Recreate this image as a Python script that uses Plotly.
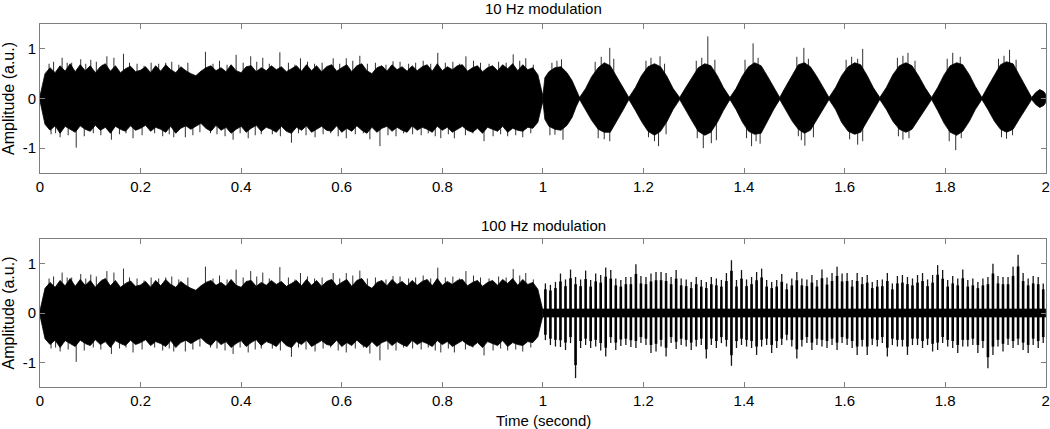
import plotly.graph_objects as go

# ---------------- data ----------------
# unmodulated noise (first second, identical in both panels): dense envelope every 0.01 s
noise_t = [round(i * 0.01, 2) for i in range(101)]
noise_up = [0.05, 0.50, 0.62, 0.52, 0.66, 0.55, 0.70, 0.54, 0.68, 0.56,
            0.66, 0.52, 0.64, 0.70, 0.55, 0.66, 0.52, 0.60, 0.65, 0.54,
            0.57, 0.64, 0.52, 0.66, 0.55, 0.68, 0.58, 0.52, 0.64, 0.56,
            0.50, 0.46, 0.55, 0.62, 0.66, 0.56, 0.62, 0.54, 0.68, 0.56,
            0.52, 0.64, 0.66, 0.54, 0.62, 0.56, 0.66, 0.58, 0.64, 0.54,
            0.60, 0.66, 0.55, 0.68, 0.56, 0.66, 0.54, 0.64, 0.68, 0.55,
            0.62, 0.68, 0.54, 0.66, 0.70, 0.56, 0.50, 0.62, 0.66, 0.55,
            0.68, 0.58, 0.64, 0.55, 0.66, 0.56, 0.64, 0.68, 0.55, 0.70,
            0.56, 0.64, 0.58, 0.66, 0.68, 0.55, 0.62, 0.66, 0.54, 0.62,
            0.66, 0.56, 0.68, 0.60, 0.70, 0.56, 0.68, 0.58, 0.62, 0.48, 0.05]
noise_lo = [-0.05, -0.52, -0.64, -0.55, -0.70, -0.56, -0.62, -0.68, -0.55, -0.62,
            -0.66, -0.54, -0.64, -0.58, -0.70, -0.56, -0.62, -0.66, -0.55, -0.64,
            -0.60, -0.54, -0.66, -0.58, -0.62, -0.68, -0.56, -0.70, -0.60, -0.55,
            -0.62, -0.56, -0.50, -0.60, -0.66, -0.54, -0.64, -0.58, -0.70, -0.62,
            -0.56, -0.68, -0.60, -0.54, -0.66, -0.58, -0.62, -0.68, -0.56, -0.66,
            -0.70, -0.58, -0.64, -0.55, -0.68, -0.62, -0.56, -0.64, -0.66, -0.55,
            -0.68, -0.60, -0.66, -0.55, -0.64, -0.70, -0.58, -0.68, -0.60, -0.56,
            -0.66, -0.58, -0.64, -0.68, -0.55, -0.64, -0.58, -0.62, -0.68, -0.56,
            -0.64, -0.58, -0.68, -0.62, -0.56, -0.64, -0.68, -0.60, -0.70, -0.58,
            -0.62, -0.66, -0.56, -0.68, -0.60, -0.64, -0.66, -0.58, -0.60, -0.48, -0.05]
# tall single spikes and fringe strokes above / below the dense band
noise_spike_t = [0.044, 0.063, 0.081, 0.101, 0.133, 0.147, 0.166, 0.250, 0.329, 0.390,
                 0.419, 0.443, 0.477, 0.518, 0.583, 0.609, 0.636, 0.702, 0.791, 0.847,
                 0.941, 0.966,
                 0.018, 0.027, 0.054, 0.091, 0.112, 0.124, 0.178, 0.193, 0.207, 0.221,
                 0.236, 0.262, 0.276, 0.294, 0.344, 0.357, 0.372, 0.404, 0.431, 0.456,
                 0.494, 0.507, 0.532, 0.546, 0.561, 0.596, 0.622, 0.651, 0.667, 0.688,
                 0.716, 0.733, 0.747, 0.762, 0.777, 0.806, 0.821, 0.834, 0.862, 0.876,
                 0.893, 0.912, 0.927, 0.954, 0.981,
                 0.040, 0.072, 0.142, 0.185, 0.266, 0.289, 0.318, 0.384, 0.414, 0.440,
                 0.500, 0.547, 0.609, 0.656, 0.676, 0.797, 0.824, 0.883, 0.930, 0.960,
                 0.022, 0.031, 0.056, 0.088, 0.106, 0.121, 0.158, 0.171, 0.203, 0.228,
                 0.244, 0.257, 0.304, 0.339, 0.352, 0.368, 0.398, 0.428, 0.462, 0.478,
                 0.514, 0.529, 0.563, 0.578, 0.593, 0.627, 0.643, 0.692, 0.708, 0.723,
                 0.741, 0.758, 0.772, 0.786, 0.812, 0.846, 0.861, 0.901, 0.916, 0.946,
                 0.976]
noise_spike_v = [0.82, 0.72, 0.79, 0.78, 0.85, 0.82, 0.90, 0.72, 0.94, 0.88,
                 0.85, 0.82, 0.93, 0.81, 0.81, 0.81, 0.86, 0.75, 0.92, 0.85,
                 0.89, 0.81,
                 0.70, 0.74, 0.72, 0.70, 0.74, 0.68, 0.72, 0.70, 0.66, 0.72,
                 0.70, 0.74, 0.68, 0.72, 0.70, 0.76, 0.68, 0.72, 0.74, 0.70,
                 0.72, 0.68, 0.74, 0.70, 0.72, 0.70, 0.76, 0.70, 0.72, 0.68,
                 0.74, 0.70, 0.72, 0.76, 0.70, 0.72, 0.74, 0.70, 0.76, 0.72,
                 0.70, 0.74, 0.72, 0.76, 0.68,
                 -0.78, -0.99, -0.83, -0.80, -0.78, -0.78, -0.68, -0.83, -0.80, -0.72,
                 -0.89, -0.78, -0.80, -0.82, -0.96, -0.80, -0.80, -0.86, -0.76, -0.78,
                 -0.72, -0.70, -0.74, -0.76, -0.70, -0.74, -0.72, -0.70, -0.74, -0.70,
                 -0.76, -0.72, -0.74, -0.70, -0.72, -0.76, -0.70, -0.74, -0.72, -0.76,
                 -0.70, -0.74, -0.72, -0.70, -0.76, -0.72, -0.70, -0.74, -0.76, -0.70,
                 -0.72, -0.74, -0.70, -0.76, -0.72, -0.74, -0.70, -0.76, -0.72, -0.74,
                 -0.70]

# 10 Hz modulated part (second 1..2): dense envelope points
am10_t = [1.000, 1.004, 1.012, 1.024, 1.036, 1.048, 1.058, 1.066, 1.073,
          1.085, 1.097, 1.110, 1.122, 1.134, 1.146, 1.159, 1.171,
          1.184, 1.196, 1.209, 1.222, 1.234, 1.247, 1.259, 1.272,
          1.284, 1.297, 1.309, 1.322, 1.334, 1.347, 1.359, 1.372,
          1.384, 1.397, 1.409, 1.421, 1.434, 1.446, 1.459, 1.471,
          1.483, 1.496, 1.508, 1.520, 1.532, 1.545, 1.557, 1.569,
          1.582, 1.594, 1.607, 1.620, 1.632, 1.645, 1.657, 1.670,
          1.683, 1.696, 1.709, 1.722, 1.734, 1.747, 1.760, 1.773,
          1.785, 1.798, 1.810, 1.823, 1.835, 1.848, 1.860, 1.873,
          1.885, 1.898, 1.910, 1.922, 1.935, 1.947, 1.960, 1.972,
          1.980, 1.988, 1.996, 2.000]
am10_up = [0.05, 0.42, 0.54, 0.62, 0.64, 0.52, 0.36, 0.17, 0.02,
           0.20, 0.44, 0.62, 0.72, 0.66, 0.46, 0.22, 0.02,
           0.22, 0.46, 0.64, 0.70, 0.64, 0.44, 0.20, 0.02,
           0.22, 0.44, 0.62, 0.70, 0.66, 0.46, 0.22, 0.02,
           0.20, 0.46, 0.64, 0.72, 0.66, 0.46, 0.22, 0.02,
           0.24, 0.48, 0.68, 0.72, 0.64, 0.44, 0.22, 0.02,
           0.22, 0.46, 0.64, 0.72, 0.68, 0.46, 0.22, 0.02,
           0.22, 0.48, 0.66, 0.72, 0.66, 0.46, 0.22, 0.02,
           0.22, 0.48, 0.66, 0.72, 0.68, 0.48, 0.24, 0.02,
           0.24, 0.48, 0.68, 0.74, 0.70, 0.48, 0.24, 0.02,
           0.12, 0.18, 0.14, 0.08]
am10_lo = [-0.05, -0.42, -0.56, -0.62, -0.64, -0.54, -0.38, -0.17, -0.02,
           -0.22, -0.44, -0.62, -0.68, -0.68, -0.46, -0.24, -0.02,
           -0.24, -0.46, -0.66, -0.74, -0.66, -0.46, -0.22, -0.02,
           -0.22, -0.46, -0.66, -0.74, -0.68, -0.48, -0.24, -0.02,
           -0.22, -0.48, -0.66, -0.72, -0.70, -0.48, -0.22, -0.02,
           -0.24, -0.46, -0.62, -0.70, -0.64, -0.44, -0.22, -0.02,
           -0.22, -0.48, -0.66, -0.72, -0.68, -0.46, -0.24, -0.02,
           -0.22, -0.46, -0.62, -0.68, -0.62, -0.42, -0.22, -0.02,
           -0.24, -0.50, -0.68, -0.74, -0.66, -0.46, -0.22, -0.02,
           -0.22, -0.46, -0.62, -0.68, -0.62, -0.42, -0.20, -0.02,
           -0.12, -0.18, -0.14, -0.08]
am10_spike_t = [1.037, 1.133, 1.233, 1.328, 1.418, 1.519, 1.636, 1.726, 1.815, 1.928,
                1.018, 1.028, 1.104, 1.116, 1.141, 1.205, 1.215, 1.242, 1.305, 1.316,
                1.342, 1.402, 1.428, 1.505, 1.528, 1.603, 1.614, 1.626, 1.705, 1.716,
                1.740, 1.804, 1.830, 1.906, 1.917, 1.941,
                1.024, 1.040, 1.133, 1.230, 1.319, 1.335, 1.415, 1.432, 1.521, 1.626,
                1.716, 1.821, 1.922,
                1.014, 1.110, 1.122, 1.210, 1.222, 1.245, 1.307, 1.345, 1.405, 1.424,
                1.508, 1.514, 1.538, 1.610, 1.636, 1.707, 1.728, 1.808, 1.832, 1.912,
                1.934]
am10_spike_v = [0.79, 1.02, 0.85, 1.25, 1.11, 1.02, 1.00, 0.92, 0.92, 0.98,
                0.72, 0.76, 0.74, 0.84, 0.80, 0.76, 0.82, 0.70, 0.76, 0.82,
                0.78, 0.78, 0.82, 0.84, 0.80, 0.78, 0.84, 0.80, 0.82, 0.86,
                0.76, 0.80, 0.84, 0.80, 0.86, 0.78,
                -0.73, -0.83, -0.86, -0.96, -1.00, -0.90, -0.96, -0.91, -0.95, -0.93,
                -0.83, -1.04, -0.81,
                -0.74, -0.80, -0.82, -0.78, -0.86, -0.72, -0.80, -0.84, -0.80, -0.86,
                -0.76, -0.84, -0.78, -0.82, -0.86, -0.76, -0.80, -0.86, -0.80, -0.78,
                -0.74]

# 100 Hz modulated part: one stroke per modulation cycle (100 cycles)
am100_start = 1.005
am100_step = 0.01
am100_up = [0.60, 0.57, 0.63, 0.80, 0.68, 0.88, 0.73, 0.68, 0.86, 0.67,
            0.80, 0.77, 0.92, 0.87, 0.70, 0.67, 0.73, 0.73, 0.99, 0.75,
            0.73, 0.80, 0.83, 0.83, 0.81, 0.73, 0.87, 0.70, 0.68, 0.63,
            0.73, 0.67, 0.63, 0.73, 0.70, 0.67, 0.81, 1.07, 0.67, 0.87,
            0.68, 0.73, 0.83, 0.90, 0.67, 0.63, 0.67, 0.79,
            0.60, 0.70, 0.83, 0.70, 0.68, 0.77, 0.67, 0.88, 0.72, 0.81,
            0.94, 0.80, 0.81, 0.67, 0.81, 0.73, 0.77, 0.63, 0.67, 0.68,
            0.81, 0.60, 0.75, 0.77, 0.73, 0.70, 0.77, 0.81, 0.68, 0.77,
            0.97, 0.87, 0.67, 0.75, 0.70, 0.88, 0.67, 0.70, 0.63, 0.70,
            0.73, 1.00, 0.75, 0.73, 0.73, 0.94, 1.18, 0.81, 0.70, 0.75,
            0.73, 0.60]
am100_lo = [-0.55, -0.65, -0.68, -0.69, -0.75, -0.61, -1.32, -0.71, -0.65, -0.71,
            -0.68, -0.76, -0.88, -0.61, -0.75, -0.67, -0.65, -0.69, -0.71, -0.61,
            -0.65, -0.81, -0.78, -0.68, -0.88, -0.61, -0.73, -0.65, -0.68, -0.75,
            -0.68, -0.65, -0.92, -0.65, -0.71, -0.61, -0.68, -1.07, -0.71, -0.65,
            -0.68, -0.71, -0.85, -0.68, -0.65, -0.81, -0.71, -0.65,
            -0.55, -0.68, -0.92, -0.68, -0.61, -0.75, -0.65, -0.68, -0.71, -0.65,
            -0.75, -0.61, -0.65, -0.71, -0.85, -0.68, -0.85, -0.65, -0.68, -0.61,
            -0.88, -0.65, -0.68, -0.68, -0.85, -0.65, -0.65, -0.71, -0.65, -0.78,
            -0.75, -0.61, -0.68, -0.71, -0.81, -0.68, -0.68, -0.65, -0.81, -0.71,
            -1.12, -0.85, -0.68, -0.78, -0.65, -0.71, -0.65, -0.75, -0.81, -0.65,
            -0.71, -0.61]
am100_core = 0.08   # half-height of the dense band between strokes

panel_titles = ["10 Hz modulation", "100 Hz modulation"]
x_ticks = [0, 0.2, 0.4, 0.6, 0.8, 1, 1.2, 1.4, 1.6, 1.8, 2]
x_ticktext = ["0", "0.2", "0.4", "0.6", "0.8", "1", "1.2", "1.4", "1.6", "1.8", "2"]
y_ticks = [-1, 0, 1]
y_ticktext = ["-1", "0", "1"]
x_title = "Time (second)"
y_title = "Amplitude (a.u.)"

# ---------------- figure ----------------
FONT = "Liberation Sans, Arial, sans-serif"
fig = go.Figure()


def band(t, up, lo, xa, ya):
    fig.add_trace(go.Scatter(x=list(t) + list(t)[::-1], y=list(up) + list(lo)[::-1],
                             fill="toself", fillcolor="black", mode="lines",
                             line=dict(color="black", width=0.8),
                             xaxis=xa, yaxis=ya, hoverinfo="skip", showlegend=False))


def strokes(ts, v0, v1, xa, ya, width, color):
    xs, ys = [], []
    for t, a, b in zip(ts, v0, v1):
        xs += [t, t, None]
        ys += [a, b, None]
    fig.add_trace(go.Scatter(x=xs, y=ys, mode="lines",
                             line=dict(color=color, width=width),
                             xaxis=xa, yaxis=ya, hoverinfo="skip", showlegend=False))


for xa, ya in (("x", "y"), ("x2", "y2")):
    strokes(noise_spike_t, [0] * len(noise_spike_t), noise_spike_v, xa, ya, 1.0, "#303030")
    band(noise_t, noise_up, noise_lo, xa, ya)

# top: 10 Hz
strokes(am10_spike_t, [0] * len(am10_spike_t), am10_spike_v, "x", "y", 1.0, "#303030")
band(am10_t, am10_up, am10_lo, "x", "y")

# bottom: 100 Hz
band([1.0, 2.0], [am100_core, am100_core], [-am100_core, -am100_core], "x2", "y2")
am100_t = [am100_start + am100_step * k for k in range(len(am100_up))]
strokes(am100_t, am100_lo, am100_up, "x2", "y2", 1.3, "#151515")
strokes(am100_t, [0.8 * v for v in am100_lo], [0.8 * v for v in am100_up],
        "x2", "y2", 2.6, "black")

axis_common = dict(range=[0, 2.0005], tickvals=x_ticks, ticktext=x_ticktext,
                   ticks="inside", ticklen=5, tickcolor="#7f7f7f", mirror="ticks",
                   showline=True, linecolor="#7f7f7f", linewidth=1,
                   showgrid=False, zeroline=False, automargin=False,
                   ticklabeloverflow="allow",
                   tickfont=dict(family=FONT, size=15, color="black"))
yaxis_common = dict(range=[-1.5, 1.5], tickvals=y_ticks, ticktext=y_ticktext,
                    ticks="inside", ticklen=5, tickcolor="#7f7f7f", mirror="ticks",
                    showline=True, linecolor="#7f7f7f", linewidth=1,
                    showgrid=False, zeroline=False, automargin=False,
                    tickfont=dict(family=FONT, size=15, color="black"))

fig.update_layout(
    width=1050, height=429,
    margin=dict(l=40, r=4, t=24, b=42, autoexpand=False),
    paper_bgcolor="white", plot_bgcolor="white",
    xaxis=dict(domain=[0, 1], anchor="y", **axis_common),
    yaxis=dict(domain=[0.5895, 1], anchor="x", **yaxis_common),
    xaxis2=dict(domain=[0, 1], anchor="y2", **axis_common),
    yaxis2=dict(domain=[0, 0.4077], anchor="x2", **yaxis_common),
    annotations=[
        dict(text=panel_titles[0], x=0.5, y=1.0, xref="paper", yref="paper",
             xanchor="center", yanchor="bottom", yshift=5, showarrow=False,
             font=dict(family=FONT, size=15, color="black")),
        dict(text=panel_titles[1], x=0.5, y=0.4077, xref="paper", yref="paper",
             xanchor="center", yanchor="bottom", yshift=3, showarrow=False,
             font=dict(family=FONT, size=15, color="black")),
        dict(text=x_title, x=0.5, y=0, xref="paper", yref="paper",
             xanchor="center", yanchor="top", yshift=-23, showarrow=False,
             font=dict(family=FONT, size=15, color="black")),
        dict(text=y_title, x=0, y=0.795, xref="paper", yref="paper",
             xanchor="right", yanchor="middle", xshift=-21, textangle=-90, showarrow=False,
             font=dict(family=FONT, size=16, color="black")),
        dict(text=y_title, x=0, y=0.204, xref="paper", yref="paper",
             xanchor="right", yanchor="middle", xshift=-21, textangle=-90, showarrow=False,
             font=dict(family=FONT, size=16, color="black")),
    ],
)

fig.write_html("out.html", config={"displayModeBar": False},
               post_script="document.body.style.margin='0';")
